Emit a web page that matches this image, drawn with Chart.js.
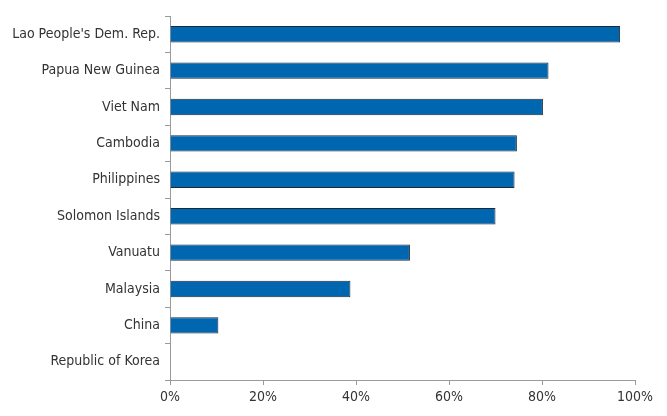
<!DOCTYPE html>
<html>
<head>
<meta charset="utf-8">
<script src="https://cdn.jsdelivr.net/npm/chart.js@4"></script>
<style>
  html, body { margin: 0; padding: 0; background: #fff; }
  #wrap { width: 667px; height: 416px; position: relative; }
</style>
</head>
<body>
<div id="wrap"><canvas id="barChart"></canvas></div>
<script>
const countries = [
  "Lao People's Dem. Rep.",
  "Papua New Guinea",
  "Viet Nam",
  "Cambodia",
  "Philippines",
  "Solomon Islands",
  "Vanuatu",
  "Malaysia",
  "China",
  "Republic of Korea"
];
const shares = [96.8, 81.4, 80.2, 74.6, 74.1, 70.0, 51.6, 38.8, 10.4, 0];
const xTicks = [0, 20, 40, 60, 80, 100];

const axisGrey = "#9a9a9a";
// condensed face: the style slot carries the font-stretch keyword into the canvas font string
const labelFont = { family: "'DejaVu Sans Condensed', 'DejaVu Sans', sans-serif", style: "condensed", size: 14 };

const ctx = document.getElementById("barChart").getContext("2d");
new Chart(ctx, {
  type: "bar",
  data: {
    labels: countries,
    datasets: [{
      data: shares,
      backgroundColor: "#0066b0",
      borderColor: "#1c2a38",
      borderWidth: 1,
      borderSkipped: "left",
      barPercentage: 0.45,
      categoryPercentage: 1
    }]
  },
  options: {
    indexAxis: "y",
    responsive: true,
    maintainAspectRatio: false,
    animation: false,
    layout: { padding: { top: 16, right: 32, left: 0, bottom: 0 } },
    plugins: {
      legend: { display: false },
      tooltip: { enabled: false }
    },
    scales: {
      x: {
        min: 0,
        max: 100,
        afterBuildTicks: function(scale) {
          scale.ticks = xTicks.map(v => ({ value: v }));
        },
        afterFit: function(scale) { scale.height = 36; },
        ticks: {
          callback: v => v + "%",
          color: "#333",
          font: labelFont,
          padding: 4,
          maxRotation: 0
        },
        grid: { drawOnChartArea: false, drawTicks: true, tickLength: 5, color: axisGrey },
        border: { color: axisGrey, width: 1 }
      },
      y: {
        afterFit: function(scale) { scale.width = 170; },
        ticks: { color: "#333", font: labelFont, padding: 5 },
        grid: { drawOnChartArea: false, drawTicks: true, tickLength: 5, color: axisGrey, offset: true },
        border: { color: axisGrey, width: 1 }
      }
    }
  }
});
</script>
</body>
</html>
